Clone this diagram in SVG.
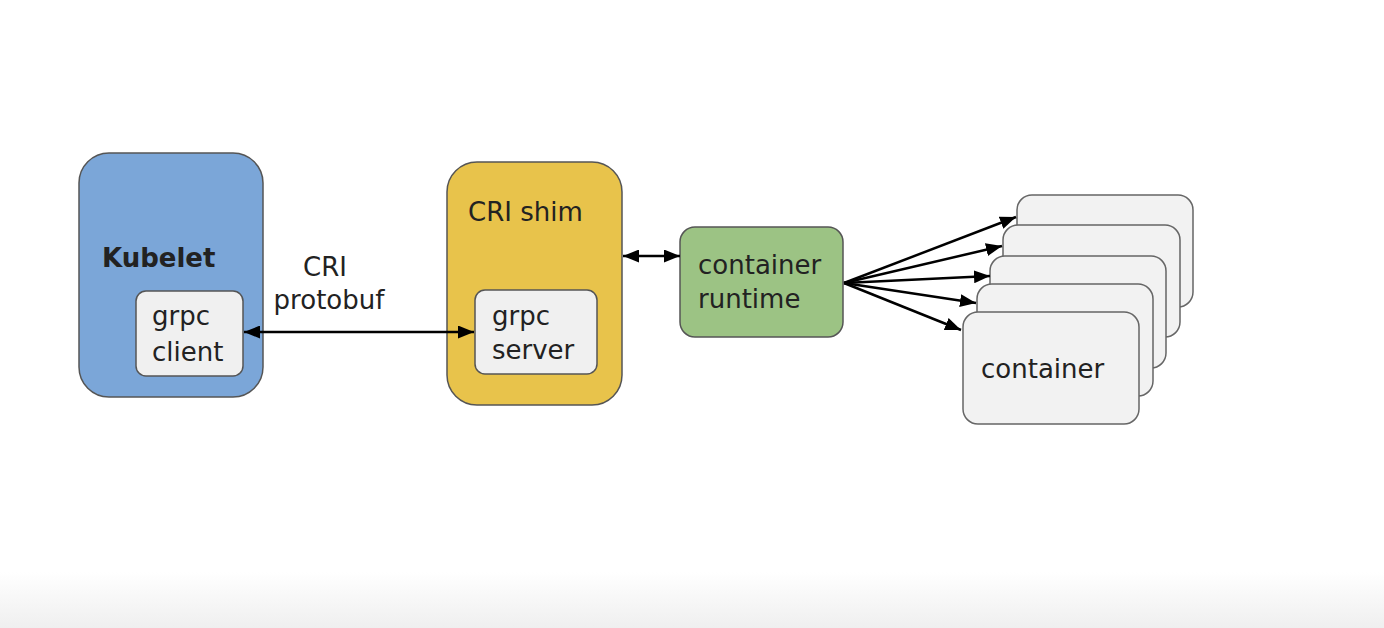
<svg xmlns="http://www.w3.org/2000/svg" width="1384" height="628" viewBox="0 0 1384 628">
<defs>
<linearGradient id="bg" x1="0" y1="0" x2="0" y2="1">
<stop offset="0" stop-color="#ffffff"/>
<stop offset="1" stop-color="#efefef"/>
</linearGradient>
<marker id="ah" viewBox="0 0 16 13" refX="16" refY="6.5" markerWidth="16" markerHeight="13" markerUnits="userSpaceOnUse" orient="auto-start-reverse">
<path d="M0,0 L16,6.5 L0,13 Z" fill="#000"/>
</marker>
<style>
text{font-family:"DejaVu Sans","Verdana",sans-serif;font-size:26px;fill:#222}
.outer{stroke:#555;stroke-width:1.5}
.inner{fill:#f0f0f0;stroke:#555;stroke-width:1.5}
.cont{fill:#f2f2f2;stroke:#666;stroke-width:1.5}
.con{stroke:#000;stroke-width:2.5;fill:none}
</style>
</defs>
<rect x="0" y="0" width="1384" height="628" fill="#fff"/>
<rect x="0" y="572" width="1384" height="56" fill="url(#bg)"/>
<g id="kubelet">
<rect class="outer" x="79" y="153" width="184" height="244" rx="30" fill="#7ba6d8"/>
<text x="102" y="267" font-weight="bold" font-size="25">Kubelet</text>
</g>
<g id="grpc-client">
<rect class="inner" x="136" y="291" width="107" height="85" rx="10"/>
<text x="152" y="325">grpc</text>
<text x="152" y="361">client</text>
</g>
<g id="cri-shim">
<rect class="outer" x="447" y="162" width="175" height="243" rx="30" fill="#e8c34b"/>
<text x="468" y="221">CRI shim</text>
</g>
<g id="grpc-server">
<rect class="inner" x="475" y="290" width="122" height="84" rx="10"/>
<text x="492" y="325">grpc</text>
<text x="492" y="359">server</text>
</g>
<g id="container-runtime">
<rect class="outer" x="680" y="227" width="163" height="110" rx="15" fill="#9cc384"/>
<text x="698" y="274">container</text>
<text x="698" y="308">runtime</text>
</g>
<g id="containers">
<rect class="cont" x="1017" y="195" width="176" height="112" rx="15"/>
<rect class="cont" x="1003" y="225" width="177" height="112" rx="15"/>
<rect class="cont" x="990" y="256" width="176" height="112" rx="15"/>
<rect class="cont" x="977" y="284" width="176" height="112" rx="15"/>
<rect class="cont" x="963" y="312" width="176" height="112" rx="15"/>
<text x="981" y="378">container</text>
</g>
<g id="connectors">
<line class="con" x1="244" y1="332" x2="474" y2="332" marker-start="url(#ah)" marker-end="url(#ah)"/>
<text x="325" y="276" text-anchor="middle">CRI</text>
<text x="329" y="309" text-anchor="middle">protobuf</text>
<line class="con" x1="623" y1="256" x2="680" y2="256" marker-start="url(#ah)" marker-end="url(#ah)"/>
<line class="con" x1="844" y1="283" x2="1016" y2="217" marker-end="url(#ah)"/>
<line class="con" x1="844" y1="283" x2="1002" y2="246" marker-end="url(#ah)"/>
<line class="con" x1="844" y1="283" x2="990" y2="276" marker-end="url(#ah)"/>
<line class="con" x1="844" y1="283" x2="976" y2="303" marker-end="url(#ah)"/>
<line class="con" x1="844" y1="283" x2="961" y2="330" marker-end="url(#ah)"/>
</g>
</svg>
